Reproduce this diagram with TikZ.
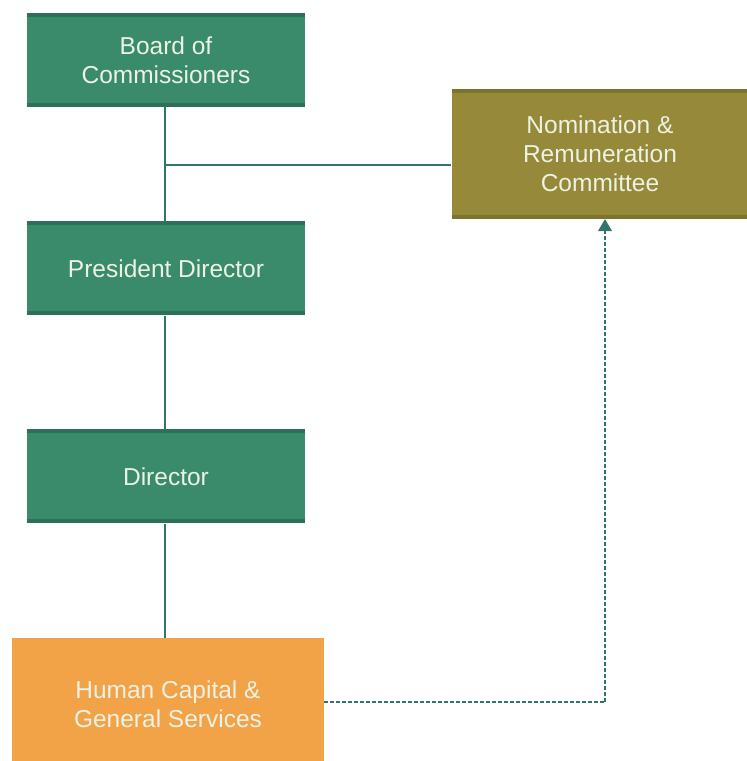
\documentclass[tikz,border=0pt]{standalone}
\usepackage{fontspec}
\setmainfont{Liberation Sans}
\usetikzlibrary{arrows.meta}
\definecolor{boxgreen}{RGB}{58,138,108}
\definecolor{greenedge}{RGB}{45,112,88}
\definecolor{boxolive}{RGB}{150,138,58}
\definecolor{oliveedge}{RGB}{125,115,45}
\definecolor{boxorange}{RGB}{242,163,72}
\definecolor{linecol}{RGB}{48,118,108}
\definecolor{txt}{RGB}{236,242,228}
\begin{document}
\begin{tikzpicture}[x=1pt,y=1pt,
  box/.style={rectangle, minimum width=278pt, minimum height=94pt, inner sep=0pt,
    text=txt, align=center, font=\fontsize{24.5}{29}\selectfont},
  bands/.style={path picture={
      \fill[#1] (path picture bounding box.north west) rectangle ([yshift=-4pt]path picture bounding box.north east);
      \fill[#1] (path picture bounding box.south west) rectangle ([yshift=4pt]path picture bounding box.south east);}},
  gbox/.style={box, fill=boxgreen, bands=greenedge},
  obox/.style={box, fill=boxolive, bands=oliveedge, minimum width=297pt, minimum height=130pt},
  hbox/.style={box, fill=boxorange, minimum width=312pt, minimum height=132pt},
  conn/.style={draw=linecol, line width=1.2pt},
  dconn/.style={draw=linecol, line width=1.2pt, dash pattern=on 4pt off 2pt}
]
\useasboundingbox (0,0) rectangle (747,761);
\fill[white] (0,0) rectangle (747,761);
\node[gbox] (board) at (166,701) {Board of\\Commissioners};
\node[gbox] (pres) at (166,492.5) {President Director};
\node[gbox] (dir) at (166,284.5) {Director};
\node[obox] (nom) at (600,607) {Nomination \&\\Remuneration\\Committee};
\node[hbox] (hc) at (168,57) {Human Capital \&\\General Services};
\coordinate (j) at (165,596);
\coordinate (t) at (605,59);
\path[conn] (board.south -| j) -- (pres.north -| j);
\path[conn] (j) -- (j -| nom.west);
\path[conn] (pres.south -| j) -- (dir.north -| j);
\path[conn] (dir.south -| j) -- (hc.north -| j);
\path[dconn] (hc.east |- t) -- (t);
\path[dconn, -{Triangle[length=12pt,width=14pt]}] (t) -- (t |- nom.south);
\end{tikzpicture}
\end{document}
